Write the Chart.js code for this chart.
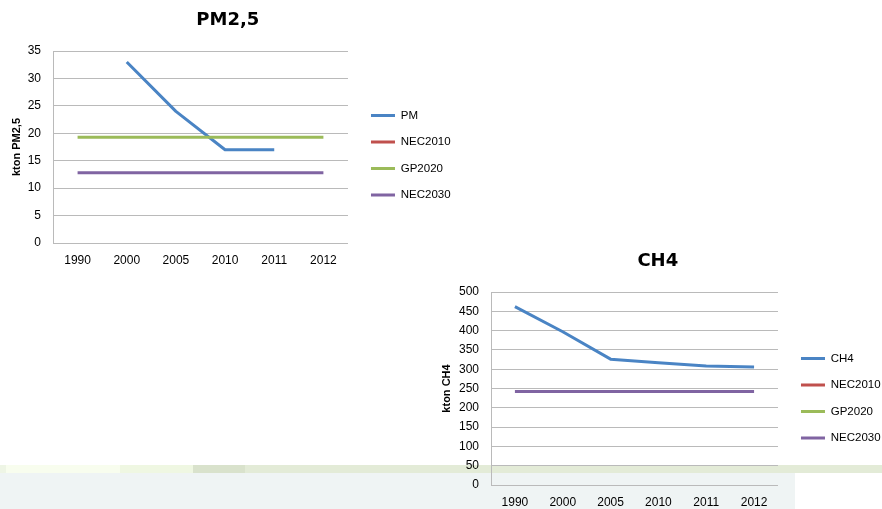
<!DOCTYPE html>
<html>
<head>
<meta charset="utf-8">
<script src="https://cdn.jsdelivr.net/npm/chart.js@4.4.1/dist/chart.umd.min.js"></script>
<style>
    html, body { margin: 0; padding: 0; background: #fff; overflow: hidden; width: 882px; height: 509px; }
    .box { position: absolute; }
    .band { position: absolute; top: 465px; height: 8px; }
</style>
</head>
<body>
<div class="band" style="left:0;width:6px;background:#eef5e5"></div>
<div class="band" style="left:6px;width:114px;background:#f8fdee"></div>
<div class="band" style="left:120px;width:73px;background:#eff7e2"></div>
<div class="band" style="left:193px;width:52px;background:#d9e2cc"></div>
<div class="band" style="left:245px;width:637px;background:#e3ebd7"></div>
<div class="box" style="left:0;top:473px;width:795px;height:36px;background:#eff4f4"></div>

<div class="box" style="left:0;top:0;width:460px;height:285px"><canvas id="pmChart"></canvas></div>
<div class="box" style="left:430px;top:240px;width:460px;height:280px"><canvas id="ch4Chart"></canvas></div>

<script>
const years = ['1990', '2000', '2005', '2010', '2011', '2012'];
const seriesNames = ['NEC2010', 'GP2020', 'NEC2030'];

const pmValues = [null, 33, 24, 17, 17, null];
const pmNec2010 = [null, null, null, null, null, null];
const pmGp2020 = [19.3, 19.3, 19.3, 19.3, 19.3, 19.3];
const pmNec2030 = [12.8, 12.8, 12.8, 12.8, 12.8, 12.8];
const pmMax = 35;
const pmStep = 5;

const ch4Values = [462, 397, 326, 317, 308, 306];
const ch4Nec2010 = [null, null, null, null, null, null];
const ch4Gp2020 = [null, null, null, null, null, null];
const ch4Nec2030 = [242, 242, 242, 242, 242, 242];
const ch4Max = 500;
const ch4Step = 50;

const colors = ['#4a84c4', '#c0504d', '#9bbb59', '#8064a2'];
const gridColor = '#bababa';
const labelFont = { family: "'Liberation Sans', Arial, sans-serif", size: 12 };

function lineSet(label, data, color) {
    return {
        label: label,
        data: data,
        borderColor: color,
        backgroundColor: color,
        borderWidth: 3,
        borderJoinStyle: 'round',
        pointRadius: 0,
        pointStyle: 'line',
        tension: 0,
        fill: false
    };
}

function makeChart(id, title, mainLabel, series, yMax, yStep, yTitle, yWidth, pad) {
    return new Chart(document.getElementById(id), {
        type: 'line',
        data: {
            labels: years,
            datasets: [
                lineSet(mainLabel, series[0], colors[0]),
                lineSet(seriesNames[0], series[1], colors[1]),
                lineSet(seriesNames[1], series[2], colors[2]),
                lineSet(seriesNames[2], series[3], colors[3])
            ].reverse()
        },
        options: {
            responsive: true,
            maintainAspectRatio: false,
            animation: false,
            layout: {
                padding: pad
            },
            plugins: {
                title: {
                    display: true,
                    text: title,
                    color: '#000',
                    font: { family: "'DejaVu Sans', sans-serif", size: 18, weight: 'bold' },
                    padding: { top: pad.titleTop, bottom: pad.titleBottom }
                },
                legend: {
                    position: 'right',
                    align: 'center',
                    reverse: true,
                    title: {
                        display: true,
                        text: ' ',
                        font: { size: 10, lineHeight: 1.5 },
                        padding: { top: pad.legendShift, bottom: 0 }
                    },
                    labels: {
                        color: '#000',
                        font: { family: "'Liberation Sans', Arial, sans-serif", size: 11.5 },
                        usePointStyle: true,
                        pointStyleWidth: 24,
                        padding: 15
                    }
                },
                tooltip: { enabled: false }
            },
            scales: {
                x: {
                    offset: true,
                    grid: { display: false, drawTicks: false },
                    border: { display: false },
                    ticks: { color: '#000', font: labelFont, padding: 10, maxRotation: 0 }
                },
                y: {
                    min: 0,
                    max: yMax,
                    ticks: { stepSize: yStep, color: '#000', font: labelFont, padding: 12 },
                    grid: { color: gridColor, drawTicks: false },
                    border: { display: true, color: gridColor },
                    title: {
                        display: true,
                        text: yTitle,
                        color: '#000',
                        font: { family: "'Liberation Sans', Arial, sans-serif", size: 11, weight: 'bold' },
                        padding: { top: 15, bottom: 0 }
                    },
                    afterFit: function (scale) {
                        scale.width = yWidth;
                    }
                },
                // empty strip between plot and legend
                gap: {
                    type: 'linear',
                    position: 'right',
                    display: false,
                    min: 0,
                    max: 1,
                    afterFit: function (scale) {
                        scale.width = 8;
                    }
                }
            }
        }
    });
}

makeChart('pmChart', 'PM2,5', 'PM', [pmValues, pmNec2010, pmGp2020, pmNec2030],
    pmMax, pmStep, 'kton PM2,5', 58,
    { left: -5, right: -0.6, top: 0, bottom: 7.6, titleTop: 10, titleBottom: 19.4, legendShift: 18 });

makeChart('ch4Chart', 'CH4', 'CH4', [ch4Values, ch4Nec2010, ch4Gp2020, ch4Nec2030],
    ch4Max, ch4Step, 'kton CH4', 66,
    { left: -5, right: -0.6, top: 0, bottom: 0.6, titleTop: 11, titleBottom: 19.4, legendShift: 22 });
</script>
</body>
</html>
